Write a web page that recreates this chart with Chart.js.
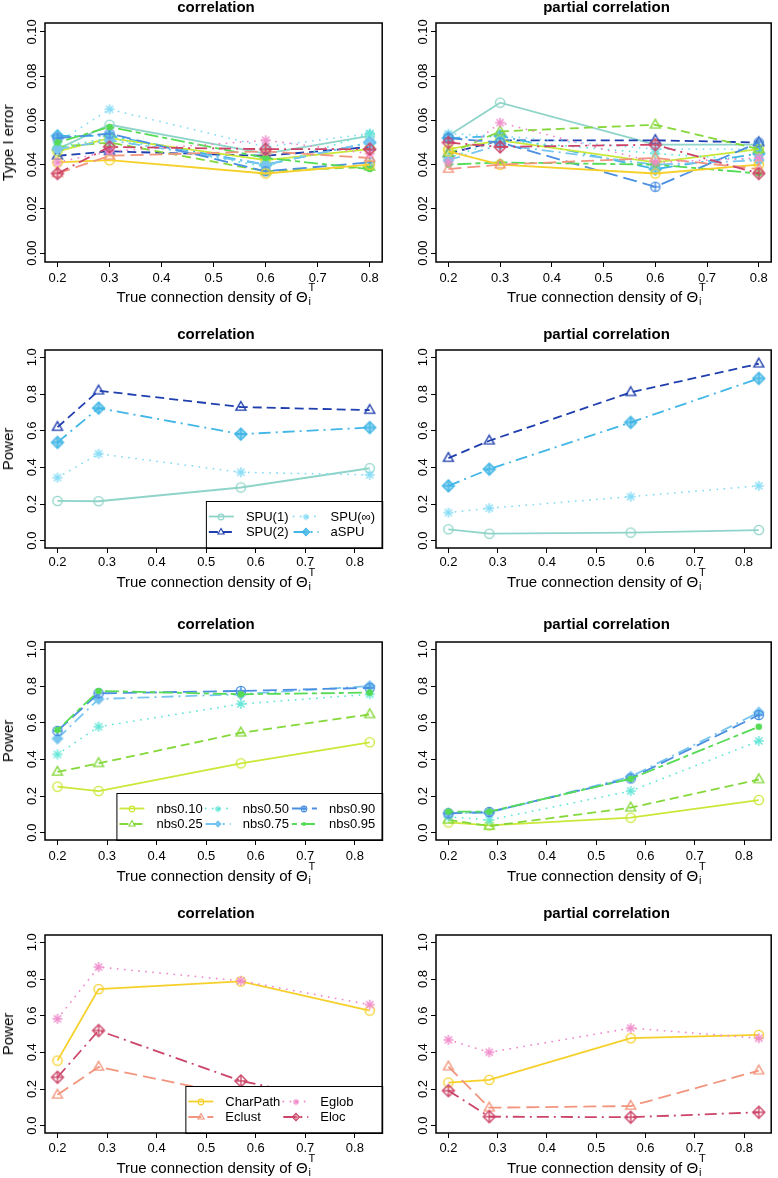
<!DOCTYPE html>
<html><head><meta charset="utf-8">
<script src="https://cdn.jsdelivr.net/npm/chart.js@4.4.1/dist/chart.umd.min.js"></script>
<style>
body{margin:0;background:#fff;width:778px;height:1178px;position:relative;overflow:hidden;font-family:"Liberation Sans",Arial,Helvetica,sans-serif;color:#000;}
canvas{position:absolute;}
.ttl{position:absolute;text-align:center;font-weight:bold;font-size:15px;line-height:18px;white-space:nowrap;}
.xt{position:absolute;text-align:center;font-size:15px;line-height:18px;white-space:nowrap;}
.yt{position:absolute;font-size:15px;line-height:18px;transform:translate(-50%,-50%) rotate(-90deg);white-space:nowrap;}
.ss{position:relative;display:inline-block;width:8px;height:1px;}
.sup{position:absolute;left:1px;top:-19px;font-size:11px;line-height:11px;}
.sub{position:absolute;left:1px;top:-5px;font-size:11px;line-height:11px;}
</style></head><body>
<script>
// ---------- axes / categories ----------
const xTypeI = [0.2, 0.3, 0.6, 0.8];
const xPower = [0.2, 0.283, 0.57, 0.83];
const xTicks = [0.2, 0.3, 0.4, 0.5, 0.6, 0.7, 0.8];
const xTickLabels = ["0.2", "0.3", "0.4", "0.5", "0.6", "0.7", "0.8"];
const yTicksTypeI = [0, 0.02, 0.04, 0.06, 0.08, 0.10];
const yTickLabelsTypeI = ["0.00", "0.02", "0.04", "0.06", "0.08", "0.10"];
const yTicksPower = [0, 0.2, 0.4, 0.6, 0.8, 1.0];
const yTickLabelsPower = ["0.0", "0.2", "0.4", "0.6", "0.8", "1.0"];

const methods = ["SPU(1)", "SPU(2)", "SPU(∞)", "aSPU", "nbs0.10", "nbs0.25", "nbs0.50", "nbs0.75", "nbs0.90", "nbs0.95", "CharPath", "Eclust", "Eglob", "Eloc"];

// ---------- Type I error, correlation ----------
const t1Cor_SPU1     = [0.047, 0.058, 0.045, 0.053];
const t1Cor_SPU2     = [0.044, 0.046, 0.044, 0.048];
const t1Cor_SPUinf   = [0.050, 0.065, 0.048, 0.054];
const t1Cor_aSPU     = [0.053, 0.053, 0.040, 0.050];
const t1Cor_nbs010   = [0.046, 0.052, 0.042, 0.047];
const t1Cor_nbs025   = [0.048, 0.050, 0.037, 0.039];
const t1Cor_nbs050   = [0.048, 0.052, 0.039, 0.054];
const t1Cor_nbs075   = [0.047, 0.051, 0.040, 0.050];
const t1Cor_nbs090   = [0.052, 0.054, 0.037, 0.041];
const t1Cor_nbs095   = [0.050, 0.057, 0.043, 0.038];
const t1Cor_CharPath = [0.041, 0.042, 0.036, 0.040];
const t1Cor_Eclust   = [0.036, 0.044, 0.046, 0.043];
const t1Cor_Eglob    = [0.041, 0.046, 0.051, 0.045];
const t1Cor_Eloc     = [0.036, 0.048, 0.047, 0.047];

// ---------- Type I error, partial correlation ----------
const t1Pc_SPU1     = [0.053, 0.068, 0.049, 0.049];
const t1Pc_SPU2     = [0.045, 0.051, 0.051, 0.050];
const t1Pc_SPUinf   = [0.054, 0.053, 0.047, 0.047];
const t1Pc_aSPU     = [0.052, 0.053, 0.038, 0.045];
const t1Pc_nbs010   = [0.047, 0.051, 0.041, 0.047];
const t1Pc_nbs025   = [0.045, 0.055, 0.058, 0.047];
const t1Pc_nbs050   = [0.043, 0.051, 0.045, 0.042];
const t1Pc_nbs075   = [0.042, 0.049, 0.040, 0.042];
const t1Pc_nbs090   = [0.052, 0.050, 0.030, 0.050];
const t1Pc_nbs095   = [0.040, 0.041, 0.040, 0.036];
const t1Pc_CharPath = [0.046, 0.040, 0.036, 0.040];
const t1Pc_Eclust   = [0.038, 0.040, 0.043, 0.038];
const t1Pc_Eglob    = [0.041, 0.059, 0.041, 0.043];
const t1Pc_Eloc     = [0.050, 0.048, 0.049, 0.036];

// ---------- Power, SPU family ----------
const pwCor_SPU1   = [0.217, 0.215, 0.290, 0.395];
const pwCor_SPU2   = [0.619, 0.818, 0.729, 0.712];
const pwCor_SPUinf = [0.344, 0.474, 0.373, 0.359];
const pwCor_aSPU   = [0.536, 0.723, 0.581, 0.617];
const pwPc_SPU1    = [0.062, 0.038, 0.044, 0.058];
const pwPc_SPU2    = [0.450, 0.545, 0.809, 0.965];
const pwPc_SPUinf  = [0.153, 0.177, 0.240, 0.299];
const pwPc_aSPU    = [0.299, 0.390, 0.645, 0.885];

// ---------- Power, NBS family ----------
const pwCor_nbs010 = [0.251, 0.227, 0.378, 0.493];
const pwCor_nbs025 = [0.331, 0.378, 0.545, 0.645];
const pwCor_nbs050 = [0.427, 0.578, 0.702, 0.755];
const pwCor_nbs075 = [0.513, 0.729, 0.755, 0.800];
const pwCor_nbs090 = [0.555, 0.760, 0.773, 0.790];
const pwCor_nbs095 = [0.560, 0.773, 0.755, 0.764];
const pwPc_nbs010  = [0.056, 0.040, 0.082, 0.178];
const pwPc_nbs025  = [0.070, 0.036, 0.136, 0.290];
const pwPc_nbs050  = [0.087, 0.069, 0.227, 0.500];
const pwPc_nbs075  = [0.105, 0.109, 0.305, 0.656];
const pwPc_nbs090  = [0.105, 0.113, 0.296, 0.642];
const pwPc_nbs095  = [0.115, 0.115, 0.294, 0.578];

// ---------- Power, graph metrics ----------
const pwCor_CharPath = [0.355, 0.745, 0.787, 0.628];
const pwCor_Eclust   = [0.168, 0.320, 0.160, 0.120];
const pwCor_Eglob    = [0.583, 0.865, 0.790, 0.660];
const pwCor_Eloc     = [0.264, 0.519, 0.244, 0.100];
const pwPc_CharPath  = [0.235, 0.250, 0.477, 0.495];
const pwPc_Eclust    = [0.322, 0.098, 0.107, 0.300];
const pwPc_Eglob     = [0.468, 0.400, 0.532, 0.477];
const pwPc_Eloc      = [0.191, 0.049, 0.046, 0.073];

// ---------- styles ----------
const FONT = '"Liberation Sans", Arial, Helvetica, sans-serif';
const STYLE = {
  "SPU(1)":   {color:'#8fd4c9', dash:[], cap:'butt', shape:'circle'},
  "SPU(2)":   {color:'#1f3fae', dash:[9,5], cap:'butt', shape:'triangle'},
  "SPU(∞)":   {color:'#86dcf6', dash:[0.1,7], cap:'round', shape:'asterisk'},
  "aSPU":     {color:'#42b6e6', dash:[12,5,2,5], cap:'butt', shape:'diamondPlusFill'},
  "nbs0.10":  {color:'#c9e838', dash:[], cap:'butt', shape:'circle'},
  "nbs0.25":  {color:'#84d83a', dash:[9,5], cap:'butt', shape:'triangle'},
  "nbs0.50":  {color:'#62e6d6', dash:[0.1,7], cap:'round', shape:'asterisk'},
  "nbs0.75":  {color:'#78c6f0', dash:[12,5,2,5], cap:'butt', shape:'diamondFill'},
  "nbs0.90":  {color:'#4a8fe0', dash:[14,6], cap:'butt', shape:'circlePlus'},
  "nbs0.95":  {color:'#55db55', dash:[5,4,14,4], cap:'butt', shape:'dot'},
  "CharPath": {color:'#f6d02a', dash:[], cap:'butt', shape:'circle'},
  "Eclust":   {color:'#f2957e', dash:[13,6], cap:'butt', shape:'triangle'},
  "Eglob":    {color:'#f08acb', dash:[0.1,7], cap:'round', shape:'asterisk'},
  "Eloc":     {color:'#cc4468', dash:[12,5,2,5], cap:'butt', shape:'diamondPlus'}
};

function hexA(hex, a){
  const n = parseInt(hex.slice(1),16);
  return 'rgba('+((n>>16)&255)+','+((n>>8)&255)+','+(n&255)+','+a+')';
}
function makeMarker(shape, color, k){
  const S = 2*Math.ceil(8*k)+2;
  const c = document.createElement('canvas');
  c.width = S; c.height = S;
  const g = c.getContext('2d');
  g.translate(S/2, S/2);
  g.strokeStyle = color; g.fillStyle = color;
  g.lineWidth = k < 1 ? 1.1 : 1.4;
  const r = 4.6*k;
  const line = (x1,y1,x2,y2)=>{g.beginPath();g.moveTo(x1,y1);g.lineTo(x2,y2);g.stroke();};
  const diamond = (d)=>{g.beginPath();g.moveTo(0,-d);g.lineTo(d,0);g.lineTo(0,d);g.lineTo(-d,0);g.closePath();};
  switch(shape){
    case 'circle': g.beginPath(); g.arc(0,0,r,0,Math.PI*2); g.stroke(); break;
    case 'triangle': g.beginPath(); g.moveTo(0,-1.2*r); g.lineTo(1.08*r,0.68*r); g.lineTo(-1.08*r,0.68*r); g.closePath(); g.stroke(); break;
    case 'asterisk': {
      const a = 1.1*r, b = 0.78*r;
      line(-a,0,a,0); line(0,-a,0,a); line(-b,-b,b,b); line(-b,b,b,-b); break; }
    case 'diamondPlus': { const d = 1.3*r; diamond(d); g.stroke(); line(-d,0,d,0); line(0,-d,0,d); break; }
    case 'diamondPlusFill': { const d = 1.3*r; diamond(d); g.fillStyle = hexA(color,0.55); g.fill(); g.stroke(); line(-d,0,d,0); line(0,-d,0,d); break; }
    case 'diamondFill': { const d = 1.3*r; diamond(d); g.fill(); break; }
    case 'circlePlus': g.beginPath(); g.arc(0,0,r,0,Math.PI*2); g.stroke(); line(-r,0,r,0); line(0,-r,0,r); break;
    case 'dot': g.beginPath(); g.arc(0,0,0.72*r,0,Math.PI*2); g.fill(); break;
  }
  return c;
}

// ---------- plugins ----------
const rBox = {
  id:'rBox',
  afterDraw(chart){
    const a = chart.chartArea, ctx = chart.ctx;
    ctx.save(); ctx.strokeStyle = '#000'; ctx.lineWidth = 1.5;
    ctx.strokeRect(a.left, a.top, a.right-a.left, a.bottom-a.top);
    ctx.restore();
  }
};
const rYLabels = {
  id:'rYLabels',
  afterDraw(chart, args, o){
    const s = chart.scales.y, ctx = chart.ctx;
    ctx.save();
    ctx.font = '13px ' + FONT; ctx.fillStyle = '#000';
    ctx.textAlign = 'center'; ctx.textBaseline = 'middle';
    o.ticks.forEach((v,i)=>{
      const y = s.getPixelForValue(v);
      ctx.save(); ctx.translate(chart.chartArea.left - 13, y); ctx.rotate(-Math.PI/2);
      ctx.fillText(o.labels[i], 0, 0); ctx.restore();
    });
    ctx.restore();
  }
};
const rLegend = {
  id:'rLegend',
  afterDatasetsDraw(chart, args, o){
    if (!o || !o.show) return;
    const ctx = chart.ctx, a = chart.chartArea;
    const ds = chart.data.datasets;
    ctx.save();
    ctx.font = '13px ' + FONT;
    const maxW = Math.max(...ds.map(d=>ctx.measureText(d.label).width));
    const colW = 40 + maxW;
    const nrow = Math.ceil(ds.length / o.ncol);
    const boxW = o.ncol*colW + 7, boxH = 47;
    const x0 = a.right - boxW, y0 = a.bottom - boxH;
    ctx.fillStyle = '#fff'; ctx.fillRect(x0, y0, boxW, boxH);
    ctx.strokeStyle = '#000'; ctx.lineWidth = 1; ctx.strokeRect(x0+0.5, y0+0.5, boxW, boxH);
    ds.forEach((d,i)=>{
      const col = Math.floor(i/nrow), row = i % nrow;
      const cx = x0 + col*colW, cy = y0 + 15.5 + row*15.5;
      ctx.save();
      ctx.strokeStyle = d.borderColor; ctx.lineWidth = 1.8;
      ctx.setLineDash(d.borderDash); ctx.lineCap = d.borderCapStyle;
      ctx.beginPath(); ctx.moveTo(cx+3, cy); ctx.lineTo(cx+28, cy); ctx.stroke();
      ctx.restore();
      const m = d.legendMarker;
      ctx.drawImage(m, Math.round(cx+15.5 - m.width/2), Math.round(cy - m.height/2));
      ctx.fillStyle = '#000'; ctx.textAlign = 'left'; ctx.textBaseline = 'middle';
      ctx.fillText(d.label, cx+40, cy+0.5);
    });
    ctx.restore();
  }
};

// ---------- layout ----------
const ROWS = [
  {top:0,   h:294, boxTop:23,  boxBottom:262,  titleY:7,   xTitleY:297,  tickPad:4},
  {top:294, h:294, boxTop:350, boxBottom:548,  titleY:334, xTitleY:582,  tickPad:2},
  {top:588, h:292, boxTop:642, boxBottom:840,  titleY:624, xTitleY:876,  tickPad:4},
  {top:880, h:298, boxTop:935, boxBottom:1133, titleY:913, xTitleY:1168, tickPad:3}
];
const COLS = [
  {left:0,   w:389, boxLeft:45,  boxRight:387},
  {left:389, w:389, boxLeft:436, boxRight:777}
];

const PANELS = [
  {row:0,col:0,title:'correlation',ylab:'Type I error',typeI:true,x:xTypeI,legend:null,
   series:[t1Cor_SPU1,t1Cor_SPU2,t1Cor_SPUinf,t1Cor_aSPU,t1Cor_nbs010,t1Cor_nbs025,t1Cor_nbs050,t1Cor_nbs075,t1Cor_nbs090,t1Cor_nbs095,t1Cor_CharPath,t1Cor_Eclust,t1Cor_Eglob,t1Cor_Eloc], names:methods},
  {row:0,col:1,title:'partial correlation',ylab:null,typeI:true,x:xTypeI,legend:null,
   series:[t1Pc_SPU1,t1Pc_SPU2,t1Pc_SPUinf,t1Pc_aSPU,t1Pc_nbs010,t1Pc_nbs025,t1Pc_nbs050,t1Pc_nbs075,t1Pc_nbs090,t1Pc_nbs095,t1Pc_CharPath,t1Pc_Eclust,t1Pc_Eglob,t1Pc_Eloc], names:methods},
  {row:1,col:0,title:'correlation',ylab:'Power',typeI:false,x:xPower,legend:2,
   series:[pwCor_SPU1,pwCor_SPU2,pwCor_SPUinf,pwCor_aSPU], names:methods.slice(0,4)},
  {row:1,col:1,title:'partial correlation',ylab:null,typeI:false,x:xPower,legend:null,
   series:[pwPc_SPU1,pwPc_SPU2,pwPc_SPUinf,pwPc_aSPU], names:methods.slice(0,4)},
  {row:2,col:0,title:'correlation',ylab:'Power',typeI:false,x:xPower,legend:3,
   series:[pwCor_nbs010,pwCor_nbs025,pwCor_nbs050,pwCor_nbs075,pwCor_nbs090,pwCor_nbs095], names:methods.slice(4,10)},
  {row:2,col:1,title:'partial correlation',ylab:null,typeI:false,x:xPower,legend:null,
   series:[pwPc_nbs010,pwPc_nbs025,pwPc_nbs050,pwPc_nbs075,pwPc_nbs090,pwPc_nbs095], names:methods.slice(4,10)},
  {row:3,col:0,title:'correlation',ylab:'Power',typeI:false,x:xPower,legend:2,
   series:[pwCor_CharPath,pwCor_Eclust,pwCor_Eglob,pwCor_Eloc], names:methods.slice(10,14)},
  {row:3,col:1,title:'partial correlation',ylab:null,typeI:false,x:xPower,legend:null,
   series:[pwPc_CharPath,pwPc_Eclust,pwPc_Eglob,pwPc_Eloc], names:methods.slice(10,14)}
];

function addDiv(cls, html, css){
  const d = document.createElement('div');
  d.className = cls; d.innerHTML = html;
  Object.assign(d.style, css);
  document.body.appendChild(d);
  return d;
}

PANELS.forEach(p=>{
  const R = ROWS[p.row], C = COLS[p.col];
  const cv = document.createElement('canvas');
  cv.width = C.w; cv.height = R.h;
  cv.style.left = C.left+'px'; cv.style.top = R.top+'px';
  cv.style.width = C.w+'px'; cv.style.height = R.h+'px';
  document.body.appendChild(cv);

  const padTop = R.boxTop - R.top;
  const padRight = (C.left + C.w) - C.boxRight;
  const yAxisW = C.boxLeft - C.left;
  const xAxisH = (R.top + R.h) - R.boxBottom;

  const xmin = p.typeI ? 0.176 : 0.1748, xmax = p.typeI ? 0.824 : 0.8552;
  const ymin = p.typeI ? -0.004 : -0.04, ymax = p.typeI ? 0.104 : 1.04;
  const yT = p.typeI ? yTicksTypeI : yTicksPower;
  const yL = p.typeI ? yTickLabelsTypeI : yTickLabelsPower;

  const datasets = p.series.map((vals,i)=>{
    const name = p.names[i], st = STYLE[name];
    return {
      label:name,
      data:p.x.map((x,j)=>({x:x, y:vals[j]})),
      borderColor:st.color, backgroundColor:st.color,
      borderWidth:1.8, borderDash:st.dash, borderCapStyle:st.cap,
      pointStyle:makeMarker(st.shape, st.color, 1),
      legendMarker:makeMarker(st.shape, st.color, 0.62),
      pointRadius:5, pointHoverRadius:5, tension:0, fill:false, order:-i
    };
  });

  const gridOpt = {display:true, drawOnChartArea:false, drawTicks:true, tickLength:5, color:'#000', lineWidth:1};
  new Chart(cv, {
    type:'line',
    data:{datasets:datasets},
    options:{
      responsive:false, animation:false, devicePixelRatio:1, events:[],
      layout:{padding:{left:0, top:padTop, right:padRight, bottom:0}},
      scales:{
        x:{type:'linear', min:xmin, max:xmax,
           afterBuildTicks:s=>{ s.ticks = xTicks.map(v=>({value:v})); },
           afterFit:s=>{ s.height = xAxisH; },
           ticks:{callback:(v,i)=>xTickLabels[i], font:{size:13, family:FONT}, color:'#000', padding:R.tickPad, maxRotation:0, minRotation:0, autoSkip:false},
           grid:gridOpt, border:{display:false}},
        y:{type:'linear', min:ymin, max:ymax,
           afterBuildTicks:s=>{ s.ticks = yT.map(v=>({value:v})); },
           afterFit:s=>{ s.width = yAxisW; },
           ticks:{display:false},
           grid:gridOpt, border:{display:false}}
      },
      plugins:{
        legend:{display:false}, tooltip:{enabled:false}, title:{display:false},
        rYLabels:{ticks:yT, labels:yL},
        rLegend:{show:!!p.legend, ncol:p.legend||1}
      }
    },
    plugins:[rLegend, rBox, rYLabels]
  });

  const bx = C.boxLeft, bw = C.boxRight - C.boxLeft;
  addDiv('ttl', p.title, {left:bx+'px', width:bw+'px', top:(R.titleY-9)+'px'});
  addDiv('xt', 'True connection density of Θ<span class="ss"><span class="sup">T</span><span class="sub">i</span></span>',
         {left:bx+'px', width:bw+'px', top:(R.xTitleY-9)+'px'});
  if (p.ylab) addDiv('yt', p.ylab, {left:'8px', top:((R.boxTop+R.boxBottom)/2)+'px'});
});
</script>
</body></html>
